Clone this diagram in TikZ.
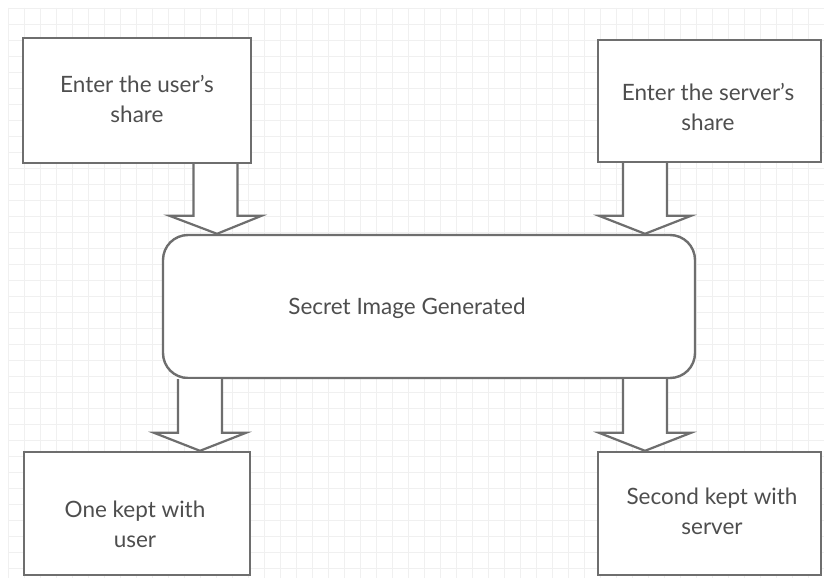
\documentclass[tikz,border=0pt]{standalone}
\usepackage{fontspec}
\setmainfont{Lato}
\usetikzlibrary{calc}
\definecolor{linegray}{HTML}{6E6E6E}
\definecolor{textgray}{HTML}{4E4E4E}
\definecolor{gridgray}{HTML}{F0F0F0}
\tikzset{
  box/.style={draw=linegray, line width=2.4pt, fill=white, rectangle, inner sep=0pt},
  stage/.style={draw=linegray, line width=2.4pt, fill=white, rounded corners=25pt, inner sep=0pt},
  lbl/.style={text=textgray, align=center, font=\fontsize{22.5}{30}\selectfont},
  arrowline/.style={draw=linegray, line width=2.2pt, fill=white, line join=miter},
}
% hollow block arrow: #1 = top centre of the shaft, #2 = tip
\newcommand\blockarrow[2]{%
  \path[arrowline] let \p1=(#1), \p2=(#2) in
    (\x1-22pt,\y1) -- (\x1-22pt,\y2+18pt) -- (\x1-46pt,\y2+18pt) -- (\x2,\y2)
    -- (\x1+46pt,\y2+18pt) -- (\x1+22pt,\y2+18pt) -- (\x1+22pt,\y1);
}
\begin{document}
\begin{tikzpicture}[x=1pt,y=-1pt]
  \useasboundingbox (0,0) rectangle (824,578);
  \fill[white] (0,0) rectangle (824,578);
  % background grid
  \foreach \gx in {8,24,...,824} \draw[gridgray, line width=0.6pt] (\gx,8) -- (\gx,578);
  \foreach \gy in {8,24,...,578} \draw[gridgray, line width=0.6pt] (8,\gy) -- (824,\gy);

  % boxes
  \node[box, minimum width=228pt, minimum height=125pt] (user) at (137,100.5) {};
  \node[box, minimum width=223pt, minimum height=122pt] (server) at (709.5,101) {};
  \node[stage, minimum width=532pt, minimum height=143pt] (secret) at (429,306.5) {};
  \node[box, minimum width=226pt, minimum height=123pt] (keptuser) at (137,513.5) {};
  \node[box, minimum width=223pt, minimum height=123pt] (keptserver) at (709.5,513.5) {};

  % labels
  \node[lbl] at (137,99) {Enter the user’s\\share};
  \node[lbl] at (708,107) {Enter the server’s\\share};
  \node[lbl] at (407,308) {Secret Image Generated};
  \node[lbl] at (135,524) {One kept with\\user};
  \node[lbl] at (712,511) {Second kept with\\server};

  % arrow anchor points
  \coordinate (a1s) at ($(user.south)+(78.5,0)$);
  \coordinate (a1t) at (217,0 |- secret.north);
  \coordinate (a2s) at (645,0 |- server.south);
  \coordinate (a2t) at (645,0 |- secret.north);
  \coordinate (a3s) at (200,0 |- secret.south);
  \coordinate (a3t) at (200,0 |- keptuser.north);
  \coordinate (a4s) at (645,0 |- secret.south);
  \coordinate (a4t) at (645,0 |- keptserver.north);

  \blockarrow{a1s}{a1t}
  \blockarrow{a2s}{a2t}
  \blockarrow{a3s}{a3t}
  \blockarrow{a4s}{a4t}
\end{tikzpicture}
\end{document}
